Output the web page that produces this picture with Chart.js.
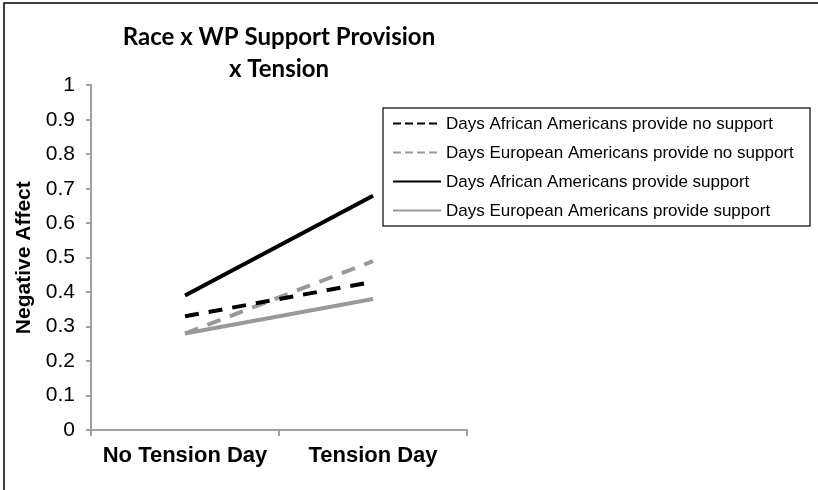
<!DOCTYPE html>
<html>
<head>
<meta charset="utf-8">
<script src="https://cdn.jsdelivr.net/npm/chart.js@4.4.0/dist/chart.umd.min.js"></script>
<style>
  html, body { margin: 0; padding: 0; background: #fff; }
  #wrap { position: relative; width: 818px; height: 490px; }
</style>
</head>
<body>
<div id="wrap"><canvas id="chart" width="818" height="490"></canvas></div>
<script>
// ============================================================
// Datos
// ============================================================
const categorias = ['No Tension Day', 'Tension Day'];
const aaSinApoyo = [0.33, 0.43];
const eaSinApoyo = [0.28, 0.49];
const aaConApoyo = [0.39, 0.68];
const eaConApoyo = [0.28, 0.38];
const ticksY = [0, 0.1, 0.2, 0.3, 0.4, 0.5, 0.6, 0.7, 0.8, 0.9, 1];

const ejeGris = '#a0a0a0';
const arial = '"Liberation Sans", Arial, sans-serif';

// ============================================================
// Leyenda dibujada a mano (caja a la derecha) + borde exterior
// ============================================================
const leyendaCaja = {
    id: 'leyendaCaja',
    afterDraw(chart) {
        const ctx = chart.ctx;
        ctx.save();
        // borde exterior (solo arriba e izquierda, como en la imagen)
        ctx.strokeStyle = '#000';
        ctx.lineWidth = 1.5;
        ctx.beginPath();
        ctx.moveTo(4, 490);
        ctx.lineTo(4, 3);
        ctx.lineTo(818, 3);
        ctx.stroke();

        const x0 = 383, y0 = 108, w = 427, h = 118;
        ctx.lineWidth = 1.2;
        ctx.strokeRect(x0, y0, w, h);

        ctx.font = '17px ' + arial;
        ctx.textBaseline = 'middle';
        ctx.textAlign = 'left';
        chart.data.datasets.forEach((ds, i) => {
            const y = 123.5 + i * 29;
            ctx.strokeStyle = ds.borderColor;
            ctx.lineWidth = 2;
            ctx.setLineDash(ds.borderDash && ds.borderDash.length ? [8, 4] : []);
            ctx.beginPath();
            ctx.moveTo(393, y);
            ctx.lineTo(441, y);
            ctx.stroke();
            ctx.setLineDash([]);
            ctx.fillStyle = '#000';
            ctx.fillText(ds.label, 446, y + 1);
        });
        ctx.restore();
    }
};

new Chart(document.getElementById('chart'), {
    type: 'line',
    data: {
        labels: categorias,
        datasets: [
            { label: 'Days African Americans provide no support', data: aaSinApoyo,
              borderColor: '#000', borderDash: [14, 10] },
            { label: 'Days European Americans provide no support', data: eaSinApoyo,
              borderColor: '#999999', borderDash: [14, 10] },
            { label: 'Days African Americans provide support', data: aaConApoyo,
              borderColor: '#000', borderDash: [] },
            { label: 'Days European Americans provide support', data: eaConApoyo,
              borderColor: '#999999', borderDash: [] }
        ].map(d => Object.assign(d, { borderWidth: 4, pointRadius: 0, fill: false, tension: 0 }))
    },
    options: {
        responsive: false,
        animation: false,
        layout: { padding: { left: 10, right: 351, top: 0, bottom: 0 } },
        plugins: {
            legend: { display: false },
            tooltip: { enabled: false },
            title: {
                display: true,
                fullSize: false,
                text: ['Race x WP Support Provision', 'x Tension'],
                color: '#000',
                font: { family: 'Lato, "Open Sans", sans-serif', size: 24, weight: 'bold', lineHeight: 1.3 },
                padding: { top: 22, bottom: 1 }
            }
        },
        scales: {
            x: {
                offset: true,
                grid: { offset: true, drawOnChartArea: false, color: ejeGris, lineWidth: 2, tickLength: 6 },
                border: { color: ejeGris, width: 2 },
                ticks: {
                    color: '#000',
                    padding: 7,
                    font: { family: arial, size: 22, weight: 'bold' }
                },
                afterFit(scale) { scale.height = 60; }
            },
            y: {
                min: 0,
                max: 1,
                afterBuildTicks(scale) { scale.ticks = ticksY.map(v => ({ value: v })); },
                grid: { drawOnChartArea: false, color: ejeGris, lineWidth: 2, tickLength: 5 },
                border: { color: ejeGris, width: 2 },
                ticks: {
                    color: '#000',
                    padding: 11,
                    font: { family: arial, size: 21 },
                    callback: v => String(Math.round(v * 10) / 10)
                },
                title: {
                    display: true,
                    text: 'Negative Affect',
                    color: '#000',
                    padding: { top: 2, bottom: 0 },
                    font: { family: arial, size: 21, weight: 'bold' }
                },
                afterFit(scale) { scale.width = 81; }
            }
        }
    },
    plugins: [leyendaCaja]
});
</script>
</body>
</html>
